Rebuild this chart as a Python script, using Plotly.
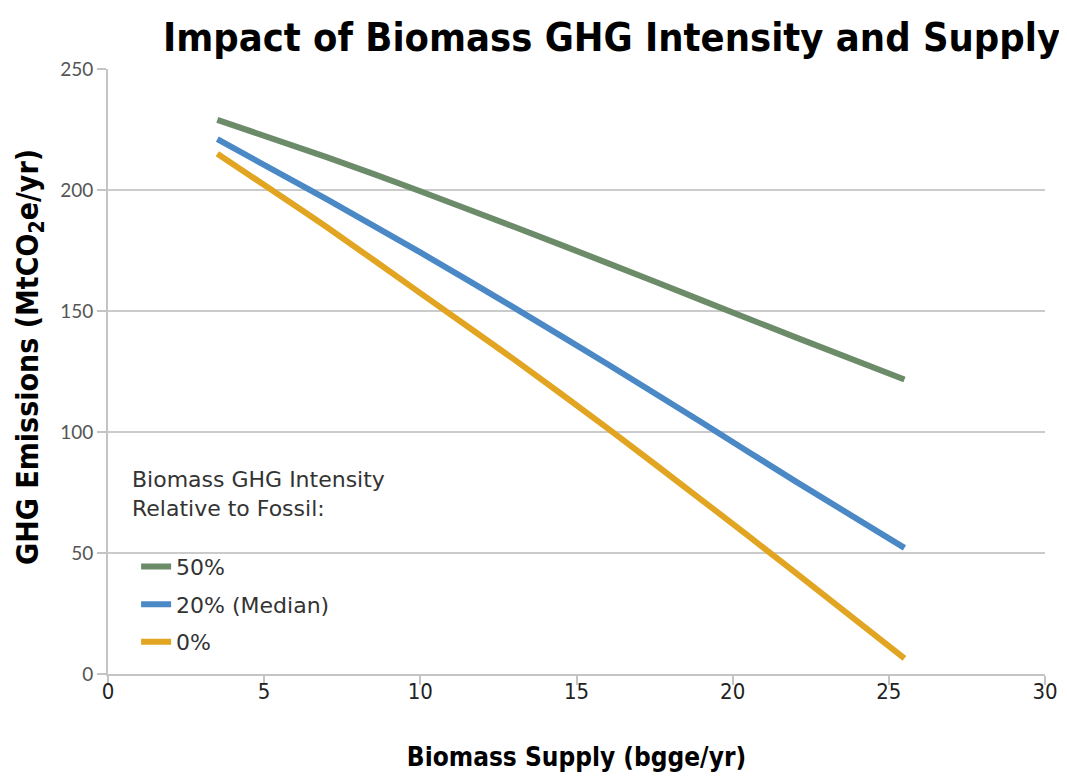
import plotly.graph_objects as go

supply = [3.5, 7, 10, 13, 16, 19, 22, 25.5]
ghg_50 = [229, 213.6, 199.5, 184.8, 169.8, 154.5, 139.2, 121.7]
ghg_20 = [221, 196.2, 174.2, 151.4, 128, 104, 79.7, 52.1]
ghg_0 = [215, 184.7, 157.4, 130, 101.5, 72, 42, 6.5]

series_names = ["50%", "20% (Median)", "0%"]
series_values = [ghg_50, ghg_20, ghg_0]
series_colors = ["#6C8C69", "#4A89C6", "#E2A522"]

x_ticks = [0, 5, 10, 15, 20, 25, 30]
y_ticks = [0, 50, 100, 150, 200, 250]

COND = "DejaVu Sans Condensed, DejaVu Sans, sans-serif"
BODY = "DejaVu Sans, sans-serif"

fig = go.Figure()
for name, vals, col in zip(series_names, series_values, series_colors):
    fig.add_trace(go.Scatter(
        x=supply, y=vals, name=name, mode="lines", legendgroup=name,
        line=dict(color=col, width=6, shape="spline", smoothing=0.6),
    ))

fig.add_annotation(
    text="Biomass GHG Intensity<br>Relative to Fossil:",
    xref="paper", yref="paper", x=0.024, y=0.345, xanchor="left", yanchor="top",
    align="left", showarrow=False,
    font=dict(family=BODY, size=22, color="#333"),
)

fig.add_annotation(
    text="<b>GHG Emissions (MtCO<sub>2</sub>e/yr)</b>",
    xref="paper", yref="paper", x=-0.0832, y=0.524, xanchor="center", yanchor="middle",
    textangle=-90, showarrow=False,
    font=dict(family=COND, size=30, color="black"),
)

fig.update_layout(
    width=1067, height=780,
    margin=dict(l=100, r=30, t=61, b=114),
    paper_bgcolor="white", plot_bgcolor="white",
    title=dict(
        text="<b>Impact of Biomass GHG Intensity and Supply</b>",
        font=dict(family=COND, size=39.5, color="black"),
        x=0.986, xanchor="right", y=0.963, yanchor="middle",
    ),
    xaxis=dict(
        range=[0, 30], tickvals=x_ticks, ticktext=[str(v) for v in x_ticks],
        showgrid=False, zeroline=False,
        showline=True, linecolor="#c4c4c4", linewidth=2,
        ticks="outside", ticklen=9, tickwidth=2, tickcolor="#c4c4c4",
        tickfont=dict(family=COND, size=22, color="#222"),
        ticklabelstandoff=-12,
        title=dict(text="<b>Biomass Supply (bgge/yr)</b>",
                   font=dict(family=COND, size=26, color="black"), standoff=44),
    ),
    yaxis=dict(
        range=[0, 250], tickvals=y_ticks, ticktext=[str(v) for v in y_ticks],
        showgrid=True, gridcolor="#cbcbcb", gridwidth=2, zeroline=False,
        showline=True, linecolor="#c4c4c4", linewidth=2,
        ticks="outside", ticklen=9, tickwidth=2, tickcolor="#c4c4c4",
        tickfont=dict(family="Lato, Open Sans, sans-serif", size=19, color="#555"),
    ),
    legend=dict(
        font=dict(family=BODY, size=22, color="#333"),
        x=0.030, xanchor="left", y=0.212, yanchor="top",
        bgcolor="rgba(0,0,0,0)", tracegroupgap=6, traceorder="grouped",
    ),
    showlegend=True,
)

fig.write_html("out.html")
